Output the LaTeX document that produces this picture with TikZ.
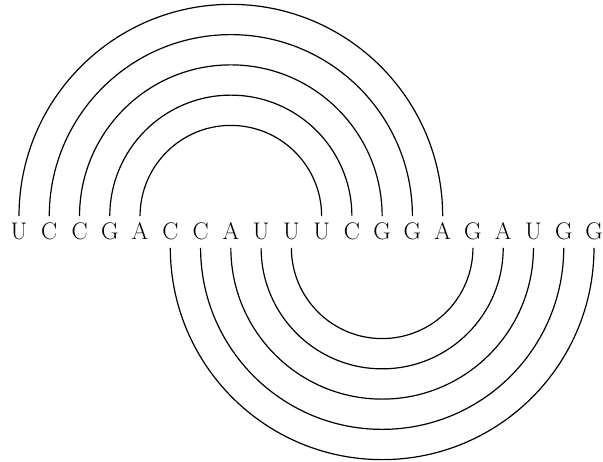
\documentclass[tikz,border=0pt]{standalone}
\begin{document}
\begin{tikzpicture}[x=1pt,y=1pt,
  base/.style={font=\fontsize{24}{24}\selectfont, text height=16pt, text depth=0pt, inner sep=7.6pt, anchor=base},
  pairarc/.style={line width=1.2pt}]
\useasboundingbox (0,0) rectangle (603,462);
\def\dx{30.263}
\foreach \s [count=\i] in {U,C,C,G,A,C,C,A,U,U,U,C,G,G,A,G,A,U,G,G}{
  \node[base] (n\i) at ({19+(\i-1)*\dx},222) {\s};
}
% upper arcs
\foreach \a/\r in {1/7,2/6,3/5,4/4,5/3}{
  \draw[pairarc] (n\a.north) arc[start angle=180,end angle=0,radius=\r*\dx];
}
% lower arcs
\foreach \a/\r in {6/7,7/6,8/5,9/4,10/3}{
  \draw[pairarc] (n\a.south) arc[start angle=180,end angle=360,radius=\r*\dx];
}
\end{tikzpicture}
\end{document}
